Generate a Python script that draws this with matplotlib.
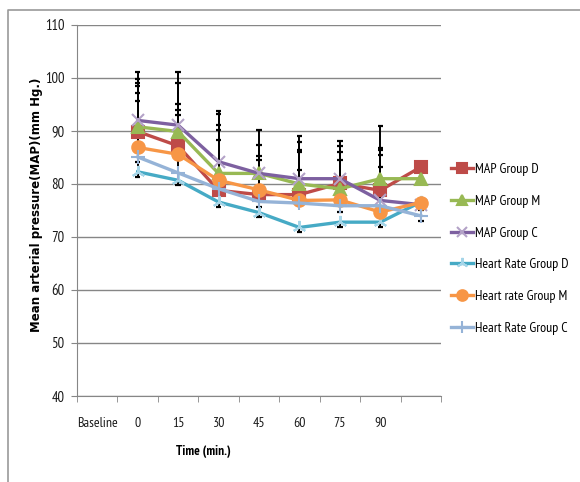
import numpy as np
import matplotlib
matplotlib.use("Agg")
import matplotlib.pyplot as plt
from matplotlib.lines import Line2D

# narrow humanist face stands in for the squeezed Calibri of the original
plt.rcParams['font.family'] = ['PT Sans Narrow', 'Carlito', 'DejaVu Sans']

# categories (the last slot on the axis has no label)
time_labels = ["Baseline", "0", "15", "30", "45", "60", "75", "90", ""]

map_d = [89.9, 87.2, 78.8, 78.0, 78.0, 80.1, 78.8, 83.2]
map_m = [90.8, 89.9, 82.0, 82.0, 80.0, 79.1, 81.0, 81.0]
map_c = [92.0, 91.1, 84.2, 82.0, 81.0, 81.0, 76.9, 76.1]
hr_d = [82.3, 80.7, 76.6, 74.6, 71.8, 72.8, 72.8, 76.6]
hr_m = [86.9, 85.6, 80.7, 78.9, 76.9, 77.0, 74.7, 76.5]
hr_c = [85.1, 82.1, 79.1, 76.7, 76.4, 75.9, 75.9, 74.0]

# error bars (plus / minus)
map_d_up = [9.2, 7.8, 9.5, 6.5, 8.4, 7.0, 8.0, 0]
map_m_up = [9.0, 9.2, 11.2, 5.3, 8.0, 7.0, 10.0, 0]
map_c_up = [9.1, 10.0, 9.5, 8.1, 8.1, 7.2, 9.6, 0]
hr_d_up = [13.3, 0, 0, 0, 0, 0, 0, 0]
hr_m_up = [11.5, 8.4, 10.4, 6.4, 9.2, 7.6, 8.5, 0]
hr_c_up = [12.1, 10.9, 11.1, 0, 6.3, 0, 9.5, 0]

hr_d_down = [1.0, 0.8, 1.0, 0.9, 0.9, 0.9, 1.0, 0]
hr_m_down = [0, 0, 0, 0, 0, 0, 0.9, 1.4]
hr_c_down = [0.9, 0, 0, 1.0, 0, 1.1, 0, 1.0]
no_err = [0] * 8

series = [
    ("MAP Group D", map_d, map_d_up, no_err, "#BE4B48", "s", "#BE4B48", 8.5),
    ("MAP Group M", map_m, map_m_up, no_err, "#98B954", "^", "#98B954", 9),
    ("MAP Group C", map_c, map_c_up, no_err, "#7D60A0", "x", "#B3A2C7", 8.5),
    ("Heart Rate Group D", hr_d, hr_d_up, hr_d_down, "#46AAC5", (3, 2, 0), "#A5D5E8", 9.5),
    ("Heart rate Group M", hr_m, hr_m_up, hr_m_down, "#F79646", "o", "#F79646", 9),
    ("Heart Rate Group C", hr_c, hr_c_up, hr_c_down, "#95B3D7", "+", "#95B3D7", 9.5),
]

fig = plt.figure(figsize=(5.8, 4.82), dpi=100)
ax = fig.add_axes([77 / 580, 1 - 396 / 482, (441 - 77) / 580, (396 - 25) / 482])

x = np.arange(1, 9)
cap = 0.07
for name, vals, up, down, color, marker, mcolor, ms in series:
    vals = np.array(vals)
    up = np.array(up)
    down = np.array(down)
    for xi, v, u, d in zip(x, vals, up, down):
        if u > 0:
            ax.vlines(xi, v, v + u, color="black", lw=1.4, zorder=2)
            ax.hlines(v + u, xi - cap, xi + cap, color="black", lw=1.6, zorder=2)
        if d > 0:
            ax.vlines(xi, v - d, v, color="black", lw=1.4, zorder=2)
            ax.hlines(v - d, xi - cap, xi + cap, color="black", lw=1.6, zorder=2)
    ax.plot(x, vals, color=color, lw=2.4, marker=marker, ms=ms,
            mfc=mcolor, mec=mcolor, mew=1.5, label=name, zorder=3)

ax.set_xlim(-0.5, 8.5)
ax.set_ylim(40, 110)
ax.set_yticks(range(40, 111, 10))
ax.set_xticks(range(9))
ax.set_xticklabels(time_labels)
ax.set_xticks(np.arange(-0.5, 9, 1), minor=True)
ax.tick_params(axis="x", which="major", length=0, pad=15, labelsize=10, colors="#1a1a1a")
ax.tick_params(axis="x", which="minor", length=4, color="#868686", direction="out")
ax.tick_params(axis="y", length=4, color="#868686", pad=5, labelsize=10.5, labelcolor="#1a1a1a")
ax.grid(axis="y", color="#868686", lw=1)
ax.set_axisbelow(True)
for s in ["top", "right"]:
    ax.spines[s].set_visible(False)
for s in ["left", "bottom"]:
    ax.spines[s].set_color("#868686")

fig.text(37 / 580, 1 - 205 / 482, "Mean arterial pressure(MAP)(mm Hg.)", rotation=90,
         ha="center", va="center", fontsize=8.5, fontweight="bold", family="DejaVu Sans")
fig.text(203 / 580, 1 - 452 / 482, "Time (min.)", ha="center", va="center",
         fontsize=9.5, fontweight="bold")

fig.legend(loc="upper left", bbox_to_anchor=(451 / 580, 1 - 163 / 482), frameon=False,
           fontsize=10, labelspacing=1.35, handlelength=1.6,
           handletextpad=0.15, borderpad=0, borderaxespad=0, markerscale=0.85)

# outer chart frame (only left and top edges show)
fig.add_artist(Line2D([8 / 580, 8 / 580, 1], [0, 1 - 10 / 482, 1 - 10 / 482],
                      transform=fig.transFigure, color="#9A9A9A", lw=1.2))

fig.savefig("out.png", dpi=100)
